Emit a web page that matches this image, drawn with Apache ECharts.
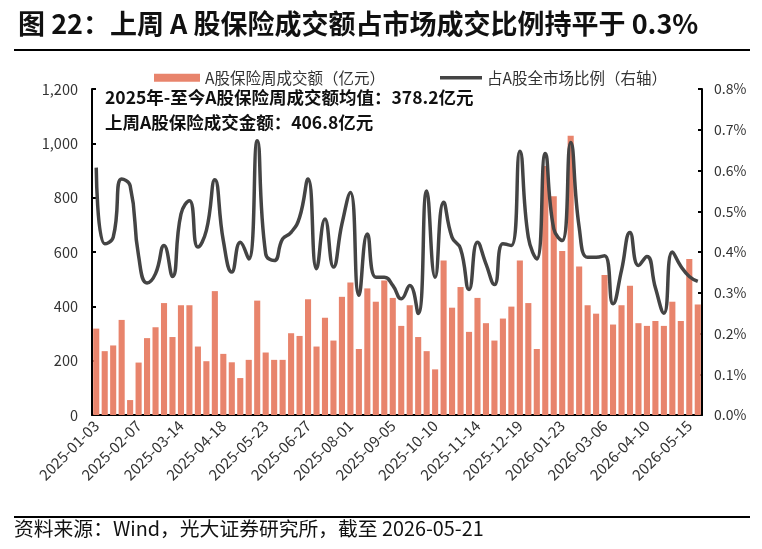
<!DOCTYPE html>
<html>
<head>
<meta charset="utf-8">
<script src="https://cdn.jsdelivr.net/npm/echarts@6/dist/echarts.min.js"></script>
<style>
html,body{margin:0;padding:0;background:#fff;}
#chart{width:762px;height:549px;}
</style>
</head>
<body>
<div id="chart"></div>
<script>
const categories = [
'2025-01-03','2025-01-10','2025-01-17','2025-01-24','2025-01-27','2025-02-07','2025-02-14','2025-02-21','2025-02-28','2025-03-07',
'2025-03-14','2025-03-21','2025-03-28','2025-04-03','2025-04-11','2025-04-18','2025-04-25','2025-04-30','2025-05-09','2025-05-16',
'2025-05-23','2025-05-30','2025-06-06','2025-06-13','2025-06-20','2025-06-27','2025-07-04','2025-07-11','2025-07-18','2025-07-25',
'2025-08-01','2025-08-08','2025-08-15','2025-08-22','2025-08-29','2025-09-05','2025-09-12','2025-09-19','2025-09-26','2025-09-30',
'2025-10-10','2025-10-17','2025-10-24','2025-10-31','2025-11-07','2025-11-14','2025-11-21','2025-11-28','2025-12-05','2025-12-12',
'2025-12-19','2025-12-26','2025-12-31','2026-01-09','2026-01-16','2026-01-23','2026-01-30','2026-02-06','2026-02-13','2026-02-27',
'2026-03-06','2026-03-13','2026-03-20','2026-03-27','2026-04-03','2026-04-10','2026-04-17','2026-04-24','2026-04-30','2026-05-08',
'2026-05-15','2026-05-21'];

const turnover = [
318,235,256,350,55,193,283,323,412,287,
404,404,252,198,456,225,194,136,203,421,
230,203,203,301,291,426,252,358,274,435,
488,243,466,417,495,431,328,404,287,235,
168,569,395,471,306,431,338,274,355,399,
569,412,243,917,805,604,1028,547,404,373,
515,333,404,476,338,328,346,328,417,346,
574,406.8];

const ratio = [
0.607,0.420,0.436,0.579,0.563,0.390,0.324,0.347,0.416,0.340,
0.493,0.526,0.412,0.453,0.577,0.428,0.351,0.424,0.383,0.673,
0.396,0.379,0.432,0.448,0.485,0.579,0.359,0.481,0.363,0.469,
0.546,0.294,0.444,0.338,0.338,0.318,0.285,0.318,0.249,0.550,
0.338,0.522,0.436,0.408,0.308,0.424,0.371,0.320,0.420,0.416,
0.647,0.436,0.383,0.642,0.457,0.428,0.669,0.461,0.387,0.387,
0.391,0.273,0.355,0.448,0.367,0.389,0.312,0.250,0.400,0.365,
0.340,0.328];

const titleText = '图 22：上周 A 股保险成交额占市场成交比例持平于 0.3%';
const seriesNames = ['A股保险周成交额（亿元）','占A股全市场比例（右轴）'];
const noteLines = ['2025年-至今A股保险周成交额均值：378.2亿元','上周A股保险成交金额：406.8亿元'];
const sourceText = '资料来源：Wind，光大证券研究所，截至 2026-05-21';

const FONT = '"Noto Sans CJK SC","Noto Sans",sans-serif';
const chart = echarts.init(document.getElementById('chart'));
chart.setOption({
  animation:false,
  backgroundColor:'#fff',
  textStyle:{fontFamily:FONT},
  title:{text:titleText,left:13,top:5,textStyle:{fontSize:27,fontWeight:'bold',color:'#111',fontFamily:FONT}},
  legend:[
    {data:[{name:seriesNames[0],icon:'rect'}],left:149,top:65,itemWidth:46,itemHeight:8,itemGap:6,
     textStyle:{fontSize:15.5,color:'#333',fontFamily:FONT}},
    {data:[{name:seriesNames[1],icon:'rect'}],left:435,top:65,itemWidth:42,itemHeight:3.5,itemGap:6,
     itemStyle:{color:'#444'},
     textStyle:{fontSize:15.5,color:'#333',fontFamily:FONT}}
  ],
  grid:{left:92,right:60,top:89,bottom:134,containLabel:false},
  xAxis:{type:'category',data:categories,
    axisLine:{lineStyle:{color:'#000',width:2}},
    axisTick:{show:false},
    axisLabel:{interval:4,rotate:45,fontSize:15,color:'#333',fontFamily:FONT,margin:8}},
  yAxis:[
    {type:'value',min:0,max:1200,interval:200,
     axisLine:{show:true,lineStyle:{color:'#000',width:2}},
     axisTick:{show:true,inside:true,length:4,lineStyle:{color:'#000',width:2}},
     splitLine:{show:false},
     axisLabel:{fontSize:14.5,color:'#333',margin:14,fontFamily:FONT,
       formatter:v=>v.toLocaleString('en-US')}},
    {type:'value',min:0,max:0.8,interval:0.1,
     axisLine:{show:true,lineStyle:{color:'#000',width:2}},
     axisTick:{show:true,inside:true,length:4,lineStyle:{color:'#000',width:2}},
     splitLine:{show:false},
     axisLabel:{fontSize:14,color:'#333',margin:12,fontFamily:FONT,
       formatter:v=>v.toFixed(1)+'%'}}
  ],
  series:[
    {name:seriesNames[0],type:'bar',data:turnover,barCategoryGap:'28%',
     itemStyle:{color:'#E8846C'}},
    {name:seriesNames[1],type:'line',yAxisIndex:1,data:ratio,smooth:0.5,
     symbol:'none',lineStyle:{color:'#444',width:3.5},itemStyle:{color:'#444'}}
  ],
  graphic:[
    {type:'rect',shape:{x:14,y:49,width:736,height:2},style:{fill:'#000'}},
    {type:'rect',shape:{x:14,y:516,width:736,height:2},style:{fill:'#000'}},
    {type:'text',left:14,top:519,style:{text:sourceText,fontSize:19.8,fill:'#111',fontFamily:FONT}},
    {type:'text',left:105,top:89,style:{text:noteLines[0],fontSize:17.5,fontWeight:'bold',fill:'#111',fontFamily:FONT}},
    {type:'text',left:105,top:114,style:{text:noteLines[1],fontSize:17.5,fontWeight:'bold',fill:'#111',fontFamily:FONT}}
  ]
});
</script>
</body>
</html>
